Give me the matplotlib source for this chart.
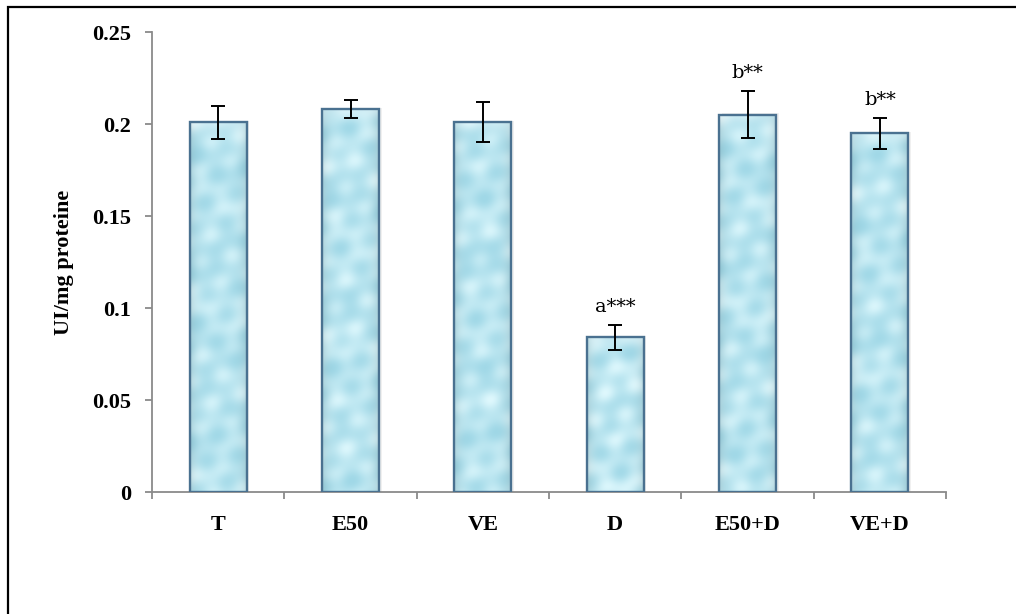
import numpy as np
import matplotlib
matplotlib.use("Agg")
import matplotlib.pyplot as plt
from matplotlib.patches import Rectangle

# Enzyme activity per group
groups = ["T", "E50", "VE", "D", "E50+D", "VE+D"]
activity = [0.201, 0.208, 0.201, 0.084, 0.205, 0.195]
errors = [0.009, 0.005, 0.011, 0.007, 0.0127, 0.0085]
signif = ["", "", "", "a***", "b**", "b**"]
yticks = [0, 0.05, 0.1, 0.15, 0.2, 0.25]
ytick_labels = ["0", "0.05", "0.1", "0.15", "0.2", "0.25"]

W, H, DPI = 1016, 614, 100
fig = plt.figure(figsize=(W / DPI, H / DPI), dpi=DPI)
fig.patch.set_facecolor("white")

# outer chart frame
fig.add_artist(Rectangle((8 / W, -0.1), 1.2, 1 - 7 / H + 0.1,
                         transform=fig.transFigure, fill=False,
                         edgecolor="black", linewidth=1.6))

ax = fig.add_axes([152 / W, 1 - 492 / H, (946 - 152) / W, (492 - 32) / H])

serif_bold = dict(family="Liberation Serif", weight="bold")

x = np.arange(len(groups)) + 0.5
bar_w = 0.43

# wave components for the bubbly fill: (angle, wavelength px, amplitude)
waves = [(0.3, 26, 1.0), (1.35, 23, 1.0), (2.4, 29, 1.0),
         (0.9, 47, 0.8), (2.0, 53, 0.8), (1.6, 90, 0.6)]


def bubble_fill(h, w, phase):
    yy, xx = np.mgrid[0:h, 0:w].astype(float)
    pat = np.zeros((h, w))
    for j, (ang, lam, amp) in enumerate(waves):
        k = 2 * np.pi / lam
        pat += amp * np.cos(k * (xx * np.cos(ang) + yy * np.sin(ang))
                            + phase * (j + 1) * 0.9)
    pat = (pat - pat.min()) / (pat.max() - pat.min())
    pat = pat ** 1.2
    light = np.array([222, 248, 253]) / 255.0
    dark = np.array([160, 216, 231]) / 255.0
    img = dark + (light - dark) * pat[..., None]
    u = xx / max(w - 1, 1)
    side = np.clip(np.abs(u - 0.5) * 2, 0, 1) ** 5
    img = img * (1 - 0.10 * side[..., None])
    top = np.exp(-(yy / 9.0) ** 2)
    img = img + (1 - img) * 0.3 * top[..., None]
    return np.clip(img, 0, 1)


for i, (xi, val) in enumerate(zip(x, activity)):
    # soft shadow
    ax.add_patch(Rectangle((xi - bar_w / 2 + 0.02, 0), bar_w, val + 0.0008,
                           facecolor="#000000", alpha=0.06, edgecolor="none",
                           zorder=1))
    outline = Rectangle((xi - bar_w / 2, 0), bar_w, val, facecolor="none",
                        edgecolor="#4a7190", linewidth=1.7, zorder=4)
    ax.add_patch(outline)
    hpx = max(int(val * 1840), 4)
    tex = bubble_fill(hpx, 57, i * 1.7)
    im = ax.imshow(tex, extent=(xi - bar_w / 2, xi + bar_w / 2, 0, val),
                   aspect="auto", origin="upper", zorder=2,
                   interpolation="bilinear")
    im.set_clip_path(outline)

ax.set_xlim(0, len(groups))
ax.set_ylim(0, 0.25)

ax.errorbar(x, activity, yerr=errors, fmt="none", ecolor="black",
            elinewidth=1.4, capsize=5, capthick=1.4, zorder=5)

for xi, val, err, lab in zip(x, activity, errors, signif):
    if lab:
        ax.annotate(lab, (xi, val + err), xytext=(0, 13), textcoords="offset points",
                    ha="center", va="center", fontsize=14, family="DejaVu Serif",
                    zorder=6)

for side in ["top", "right"]:
    ax.spines[side].set_visible(False)
for side in ["left", "bottom"]:
    ax.spines[side].set_color("#8a8a8a")
    ax.spines[side].set_linewidth(1.3)

ax.set_yticks(yticks)
ax.set_yticklabels(ytick_labels, **serif_bold, fontsize=16)
ax.set_xticks(np.arange(len(groups) + 1))
ax.set_xticklabels([""] * (len(groups) + 1))
ax.tick_params(axis="both", color="#8a8a8a", width=1.3, length=5, direction="out")
ax.tick_params(axis="y", pad=10)

for xi, g in zip(x, groups):
    ax.text(xi, -0.0125, g, ha="center", va="top", fontsize=16, **serif_bold)

ax.set_ylabel("UI/mg proteine", fontsize=16, labelpad=13, **serif_bold)

fig.savefig("out.png", dpi=DPI, facecolor="white")
